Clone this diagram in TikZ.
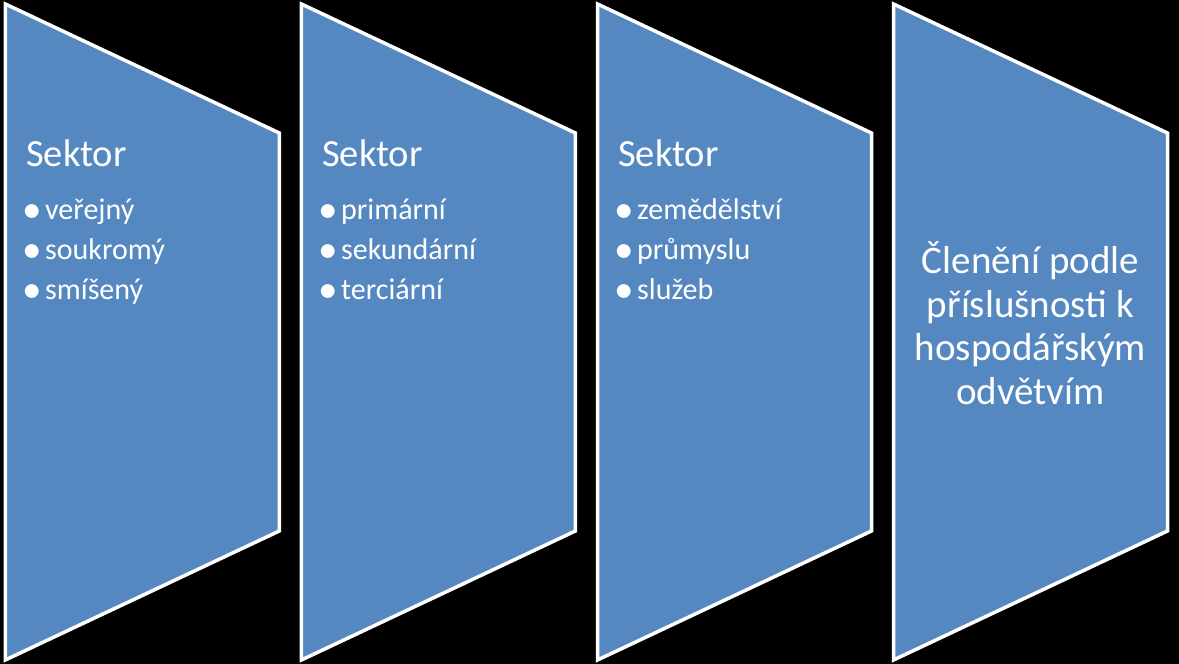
\documentclass[tikz,border=0pt]{standalone}
\usepackage{fontspec}
\setmainfont{Carlito}
\definecolor{boxblue}{RGB}{85,136,192}
\newcommand{\bul}{\makebox[20pt][c]{\raisebox{-2.4pt}{\fontsize{39}{39}\selectfont •}}\hspace{3pt}}
\begin{document}
\begin{tikzpicture}[x=1pt,y=1pt,
  panel/.style={fill=boxblue,draw=white,line width=3.5pt,line join=miter},
  head/.style={anchor=base west,inner sep=0pt,text=white,font=\fontsize{38.5}{44}\selectfont},
  item/.style={anchor=base west,inner sep=0pt,text=white,font=\fontsize{30}{36}\selectfont},
  big/.style={anchor=base,inner sep=0pt,text=white,font=\fontsize{39}{44}\selectfont}]
\fill[black] (0,0) rectangle (1179,664);
\useasboundingbox (0,0) rectangle (1179,664);
% panels (y measured from bottom)
\foreach \i/\x in {1/5.3,2/301.4,3/597.5,4/893.5}{
  \draw[panel] (\x,660) -- (\x+274,531) -- (\x+274,133) -- (\x,4) -- cycle;
}
% panel 1
\node[head] (h1) at (26,497) {Sektor};
\node[item] (a1) at (22,444) {\bul veřejný};
\node[item] (a2) at (22,404) {\bul soukromý};
\node[item] (a3) at (22,364) {\bul smíšený};
% panel 2
\node[head] (h2) at (322,497) {Sektor};
\node[item] (b1) at (318,444) {\bul primární};
\node[item] (b2) at (318,404) {\bul sekundární};
\node[item] (b3) at (318,364) {\bul terciární};
% panel 3
\node[head] (h3) at (618,497) {Sektor};
\node[item] (c1) at (614,444) {\bul zemědělství};
\node[item] (c2) at (614,404) {\bul průmyslu};
\node[item] (c3) at (614,364) {\bul služeb};
% panel 4
\node[big] (d1) at (1030.5,390) {Členění podle};
\node[big] (d2) at (1030.5,346.5) {příslušnosti k};
\node[big] (d3) at (1030.5,303) {hospodářským};
\node[big] (d4) at (1030.5,259.5) {odvětvím};
\end{tikzpicture}
\end{document}
